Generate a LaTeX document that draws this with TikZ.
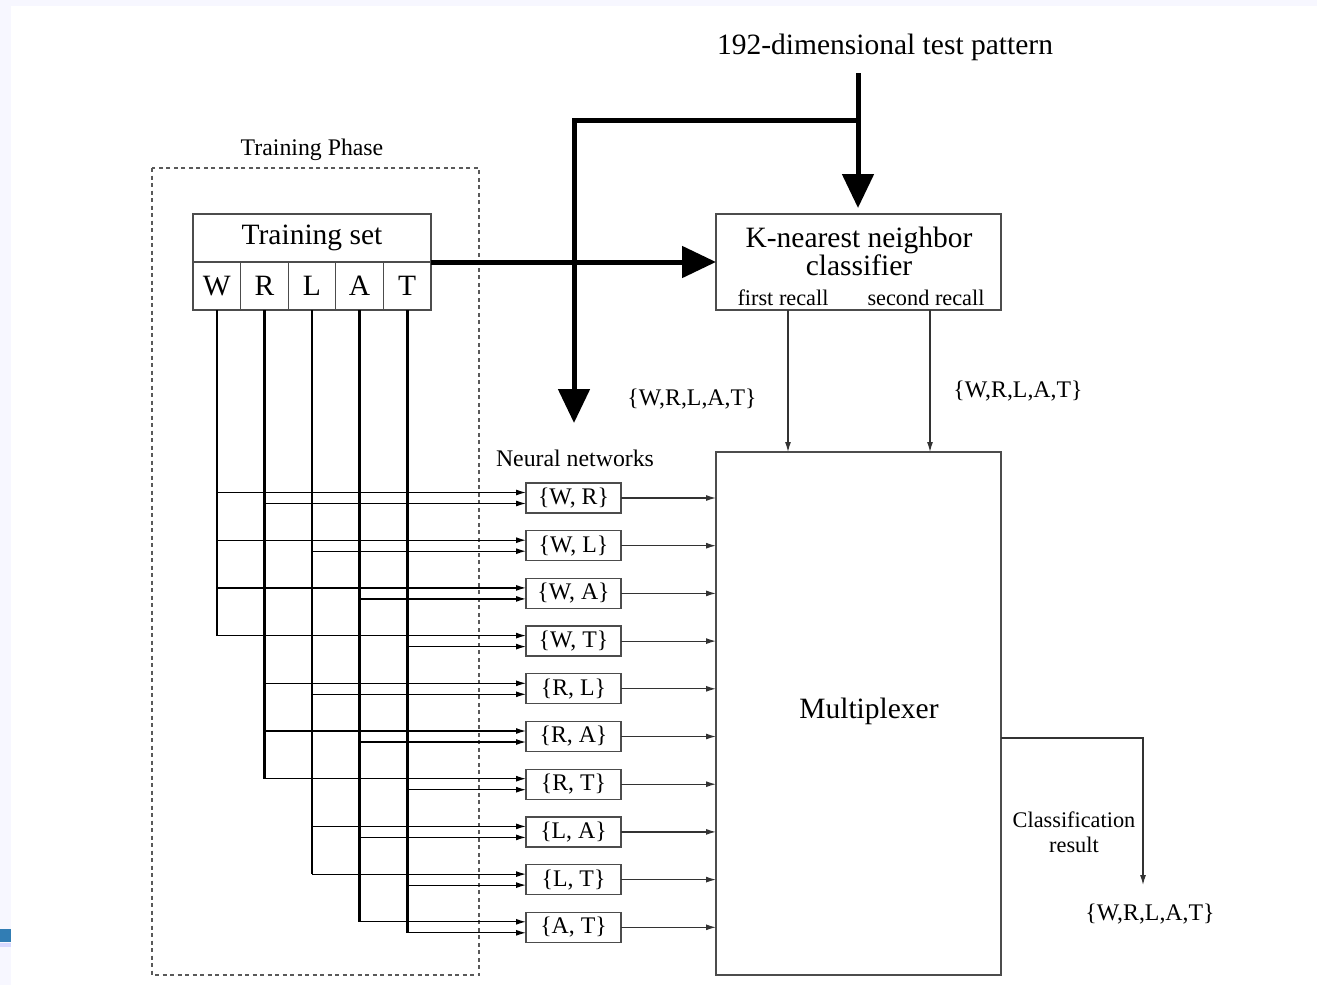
\documentclass[tikz,border=0pt]{standalone}
\usepackage{fontspec}
\setmainfont{Liberation Serif}
\usetikzlibrary{arrows.meta,calc}
\begin{document}
\begin{tikzpicture}[x=1pt,y=-1pt,
  bigfont/.style={font=\fontsize{29.5}{30}\selectfont},
  smallfont/.style={font=\fontsize{23.8}{25}\selectfont},
  recallfont/.style={font=\fontsize{22.3}{24}\selectfont},
  boxline/.style={draw=black!70,line width=1.3pt},
  cell/.style={boxline,inner sep=0pt,outer sep=0pt,minimum width=47.6pt,minimum height=48pt,bigfont},
  nn/.style={boxline,inner sep=0pt,outer sep=0pt,minimum width=95pt,minimum height=30pt,smallfont},
  vline/.style={line width=2.6pt,black},
  hline/.style={line width=1.2pt,black,-{Latex[length=10pt,width=6pt]}},
  outline/.style={line width=1.2pt,black!80,-{Latex[length=10pt,width=6pt]}},
  thickarrow/.style={line width=5pt,black,-{Triangle[length=34pt,width=31pt]}},
  plain/.style={inner sep=0pt,outer sep=0pt}
]
\useasboundingbox (0,0) rectangle (1317,985);
% screenshot margin
\fill[blue!3] (0,0) rectangle (1317,985);
\fill[white] (11,6) rectangle (1317,985);
\fill[cyan!70!blue!80!black] (0,929) rectangle (11,942);
\fill[blue!15] (0,943) rectangle (11,947);

% training phase frame
\node[plain,smallfont] (tp) at (312,150) {Training Phase};
\draw[black!65,line width=1.2pt,dash pattern=on 4pt off 3.5pt] (152,168) rectangle (479,975);

% training set
\node[boxline,inner sep=0pt,outer sep=0pt,minimum width=238pt,minimum height=48pt,bigfont] (tstitle) at (312,238) {Training set};
\foreach \l [count=\i] in {W,R,L,A,T}{
  \node[cell] (c\l) at ({193+47.6*(\i-0.5)},286) {\raisebox{-3pt}{\l}};
}

% neural network boxes
\node[plain,smallfont] (nnlabel) at (575,458) {Neural networks};
\foreach \a/\b [count=\i] in {W/R,W/L,W/A,W/T,R/L,R/A,R/T,L/A,L/T,A/T}{
  \node[nn] (n\a\b) at (573.5,{498+47.7*(\i-1)}) {\{\a, \b\}};
  \coordinate (u\a\b) at ($(n\a\b.west)+(0,-5.5)$);
  \coordinate (l\a\b) at ($(n\a\b.west)+(0,5.5)$);
}

% vertical bus lines
\draw[vline] (cW.south) -- (cW.south |- uWT);
\draw[vline] (cR.south) -- (cR.south |- uRT);
\draw[vline] (cL.south) -- (cL.south |- uLT);
\draw[vline] (cA.south) -- (cA.south |- uAT);
\draw[vline] (cT.south) -- (cT.south |- lAT);

% horizontal inputs
\foreach \a/\b in {W/R,W/L,W/A,W/T,R/L,R/A,R/T,L/A,L/T,A/T}{
  \draw[hline] (c\a.south |- u\a\b) -- (u\a\b);
  \draw[hline] (c\b.south |- l\a\b) -- (l\a\b);
}

% multiplexer
\node[boxline,inner sep=0pt,outer sep=0pt,minimum width=285pt,minimum height=523pt,bigfont] (mux) at (858.5,713.5) {};
\node[plain,bigfont] (muxlabel) at (869,711) {Multiplexer};
\foreach \a/\b in {W/R,W/L,W/A,W/T,R/L,R/A,R/T,L/A,L/T,A/T}{
  \draw[outline] (n\a\b.east) -- (n\a\b.east -| mux.west);
}

% KNN classifier
\node[boxline,inner sep=0pt,outer sep=0pt,minimum width=285pt,minimum height=96pt] (knn) at (858.5,262) {};
\node[plain,bigfont,align=center] (knnlabel) at (859,251) {K-nearest neighbor\\[-2pt]classifier};
\node[plain,recallfont] (fr) at (783,298) {first recall};
\node[plain,recallfont] (sr) at (926,298) {second recall};
\coordinate (k1) at (788,310);
\coordinate (k2) at (930,310);
\draw[outline] (k1) -- (k1 |- mux.north);
\draw[outline] (k2) -- (k2 |- mux.north);
\node[plain,smallfont] (s1) at (692,399) {\{W,R,L,A,T\}};
\node[plain,smallfont] (s2) at (1018,391) {\{W,R,L,A,T\}};

% test pattern
\node[plain,bigfont] (tpat) at (885,47) {192-dimensional test pattern};
\coordinate (top) at (858,73);
\coordinate (br) at (858,120);
\coordinate (nnin) at (574,423);
\draw[thickarrow] (top) -- (knn.north -| top) [shorten >=6pt];
\draw[line width=5pt,black] (br) -| (574,140);
\draw[thickarrow] (574,118) -- (nnin);
\draw[thickarrow] (tstitle.south east) -- (knn.west);

% classification result
\coordinate (mo) at (1001,738);
\coordinate (cr) at (1143,885);
\draw[outline] (mo) -| (cr);
\node[plain,recallfont] (crl1) at (1074,820) {Classification};
\node[plain,recallfont] (crl2) at (1074,845) {result};
\node[plain,smallfont] (res) at (1150,914) {\{W,R,L,A,T\}};
\end{tikzpicture}
\end{document}
